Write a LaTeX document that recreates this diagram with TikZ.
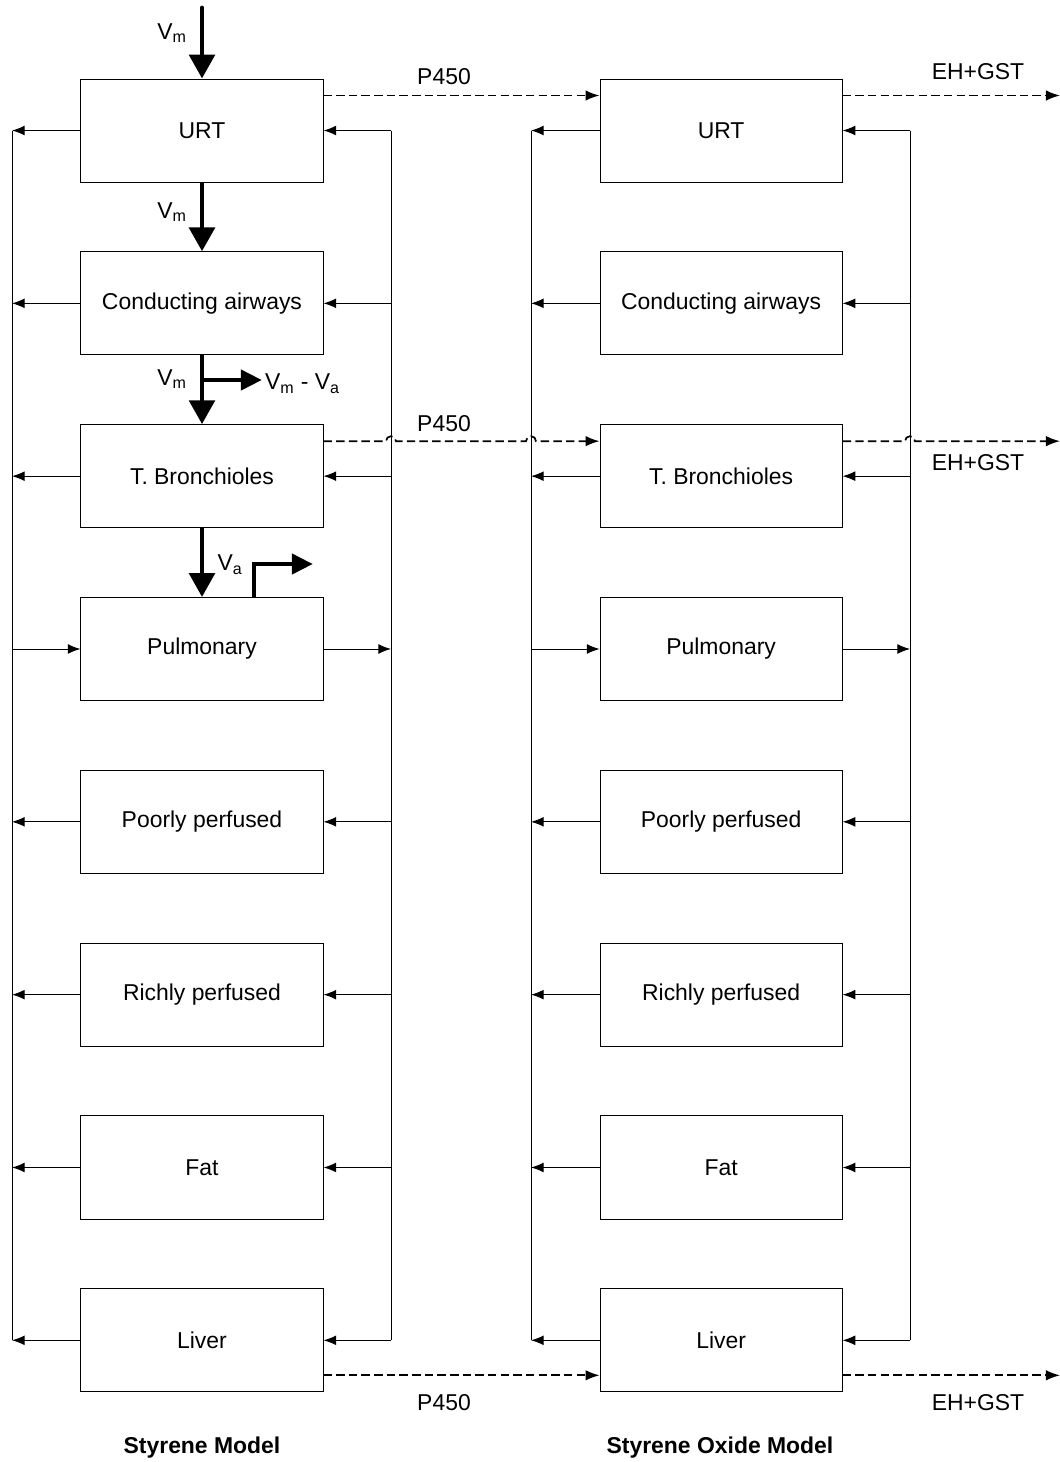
\documentclass[tikz,border=0pt]{standalone}
\usepackage{fontspec}
\setmainfont{Liberation Sans}
\usetikzlibrary{arrows.meta,positioning,calc}
\tikzstyle{box}=[draw, line width=0.7pt, minimum width=6.05cm, minimum height=2.575cm, inner sep=0pt]
\tikzstyle{arrow}=[draw, line width=0.7pt, -{Latex[length=9pt,width=7pt]}]
\tikzstyle{flow}=[draw, line width=1.2pt, dash pattern=on 6pt off 3pt, -{Latex[length=10pt,width=7.5pt]}]
\tikzstyle{vent}=[draw, line width=3.5pt, -{Triangle[length=17pt,width=18pt]}]
\tikzstyle{branch}=[draw, line width=3.5pt, -{Triangle[length=15pt,width=14pt]}]

\begin{document}
\begin{tikzpicture}[x=0.025cm, y=-0.025cm, font=\fontsize{16.3}{19.5}\selectfont]
\useasboundingbox (0,0) rectangle (1060,1462);

% styrene model
\node (urt) [box] at (202,130.5) {URT};
\node (cond) [box, below=1.72cm of urt] {Conducting airways};
\node (tbron) [box, below=1.72cm of cond] {T. Bronchioles};
\node (pulm) [box, below=1.72cm of tbron] {Pulmonary};
\node (poor) [box, below=1.72cm of pulm] {Poorly perfused};
\node (rich) [box, below=1.72cm of poor] {Richly perfused};
\node (fat) [box, below=1.72cm of rich] {Fat};
\node (liver) [box, below=1.72cm of fat] {Liver};

% styrene oxide model
\node (ourt) [box, right=6.9cm of urt] {URT};
\node (ocond) [box, below=1.72cm of ourt] {Conducting airways};
\node (otbron) [box, below=1.72cm of ocond] {T. Bronchioles};
\node (opulm) [box, below=1.72cm of otbron] {Pulmonary};
\node (opoor) [box, below=1.72cm of opulm] {Poorly perfused};
\node (orich) [box, below=1.72cm of opoor] {Richly perfused};
\node (ofat) [box, below=1.72cm of orich] {Fat};
\node (oliver) [box, below=1.72cm of ofat] {Liver};

\coordinate (lbus) at (12,0);
\coordinate (rbus) at (391,0);
\coordinate (olbus) at (531,0);
\coordinate (orbus) at (910,0);
\coordinate (edge) at (1060,0);

\draw [line width=0.7pt] (urt -| lbus) -- (liver -| lbus);
\draw [line width=0.7pt] (urt -| rbus) -- (liver -| rbus);
\draw [line width=0.7pt] (ourt -| olbus) -- (oliver -| olbus);
\draw [line width=0.7pt] (ourt -| orbus) -- (oliver -| orbus);

\draw [arrow] (urt) -- (urt -| lbus);
\draw [arrow] (cond) -- (cond -| lbus);
\draw [arrow] (tbron) -- (tbron -| lbus);
\draw [arrow] (pulm -| lbus) -- (pulm);
\draw [arrow] (poor) -- (poor -| lbus);
\draw [arrow] (rich) -- (rich -| lbus);
\draw [arrow] (fat) -- (fat -| lbus);
\draw [arrow] (liver) -- (liver -| lbus);

\draw [arrow] (urt -| rbus) -- (urt);
\draw [arrow] (cond -| rbus) -- (cond);
\draw [arrow] (tbron -| rbus) -- (tbron);
\draw [arrow] (pulm) -- (pulm -| rbus);
\draw [arrow] (poor -| rbus) -- (poor);
\draw [arrow] (rich -| rbus) -- (rich);
\draw [arrow] (fat -| rbus) -- (fat);
\draw [arrow] (liver -| rbus) -- (liver);

\draw [arrow] (ourt) -- (ourt -| olbus);
\draw [arrow] (ocond) -- (ocond -| olbus);
\draw [arrow] (otbron) -- (otbron -| olbus);
\draw [arrow] (opulm -| olbus) -- (opulm);
\draw [arrow] (opoor) -- (opoor -| olbus);
\draw [arrow] (orich) -- (orich -| olbus);
\draw [arrow] (ofat) -- (ofat -| olbus);
\draw [arrow] (oliver) -- (oliver -| olbus);

\draw [arrow] (ourt -| orbus) -- (ourt);
\draw [arrow] (ocond -| orbus) -- (ocond);
\draw [arrow] (otbron -| orbus) -- (otbron);
\draw [arrow] (opulm) -- (opulm -| orbus);
\draw [arrow] (opoor -| orbus) -- (opoor);
\draw [arrow] (orich -| orbus) -- (orich);
\draw [arrow] (ofat -| orbus) -- (ofat);
\draw [arrow] (oliver -| orbus) -- (oliver);

% air flow
\coordinate (vin) at (202,8);
\coordinate (split) at (202,380);
\coordinate (exh) at (262,380);
\coordinate (bout) at (313,564);
\draw [vent, line cap=round] (vin) -- (urt);
\draw [vent] (urt) -- (cond);
\draw [vent] (cond) -- (tbron);
\draw [vent] (tbron) -- (pulm);
\draw [branch] (split) -- (exh);
\draw [branch] ([xshift=1.3cm]pulm.north) |- (bout);

\node (vm1) at (172,33) {V\textsubscript{m}};
\node (vm2) at (172,212) {V\textsubscript{m}};
\node (vm3) at (172,379) {V\textsubscript{m}};
\node (vmva) [right=1pt of exh, inner sep=1pt, yshift=-0.1cm] {V\textsubscript{m} - V\textsubscript{a}};
\node (va) at (230,565) {V\textsubscript{a}};

% metabolism
\coordinate (up) at ([yshift=-0.425cm]urt.north east);
\coordinate (oup) at ([yshift=-0.425cm]ourt.north east);
\coordinate (tbp) at ([yshift=-0.425cm]tbron.north east);
\coordinate (otbp) at ([yshift=-0.425cm]otbron.north west);
\coordinate (otbq) at ([yshift=-0.425cm]otbron.north east);
\coordinate (lp) at ([yshift=0.425cm]liver.south east);
\coordinate (olp) at ([yshift=0.425cm]oliver.south east);

\draw [flow] (up) -- ([yshift=-0.425cm]ourt.north west);
\draw [flow] (tbp) -- ($(rbus |- tbp)+(-5,0)$) arc[start angle=180, end angle=0, radius=0.125cm]
  -- ($(olbus |- tbp)+(-5,0)$) arc[start angle=180, end angle=0, radius=0.125cm] -- (otbp);
\draw [flow] (lp) -- ([yshift=0.425cm]oliver.south west);

\draw [flow] (oup) -- (oup -| edge);
\draw [flow] (otbq) -- ($(orbus |- otbq)+(-5,0)$) arc[start angle=180, end angle=0, radius=0.125cm] -- (otbq -| edge);
\draw [flow] (olp) -- (olp -| edge);

\node (p1) at (444,77) {P450};
\node (p2) at (444,424) {P450};
\node (p3) at (444,1403) {P450};
\node (e1) at (978,72) {EH+GST};
\node (e2) at (978,463) {EH+GST};
\node (e3) at (978,1403) {EH+GST};

\node (tsty) at (202,1448) {\bfseries Styrene Model};
\node (tox) at (720,1448) {\bfseries Styrene Oxide Model};

\end{tikzpicture}
\end{document}
